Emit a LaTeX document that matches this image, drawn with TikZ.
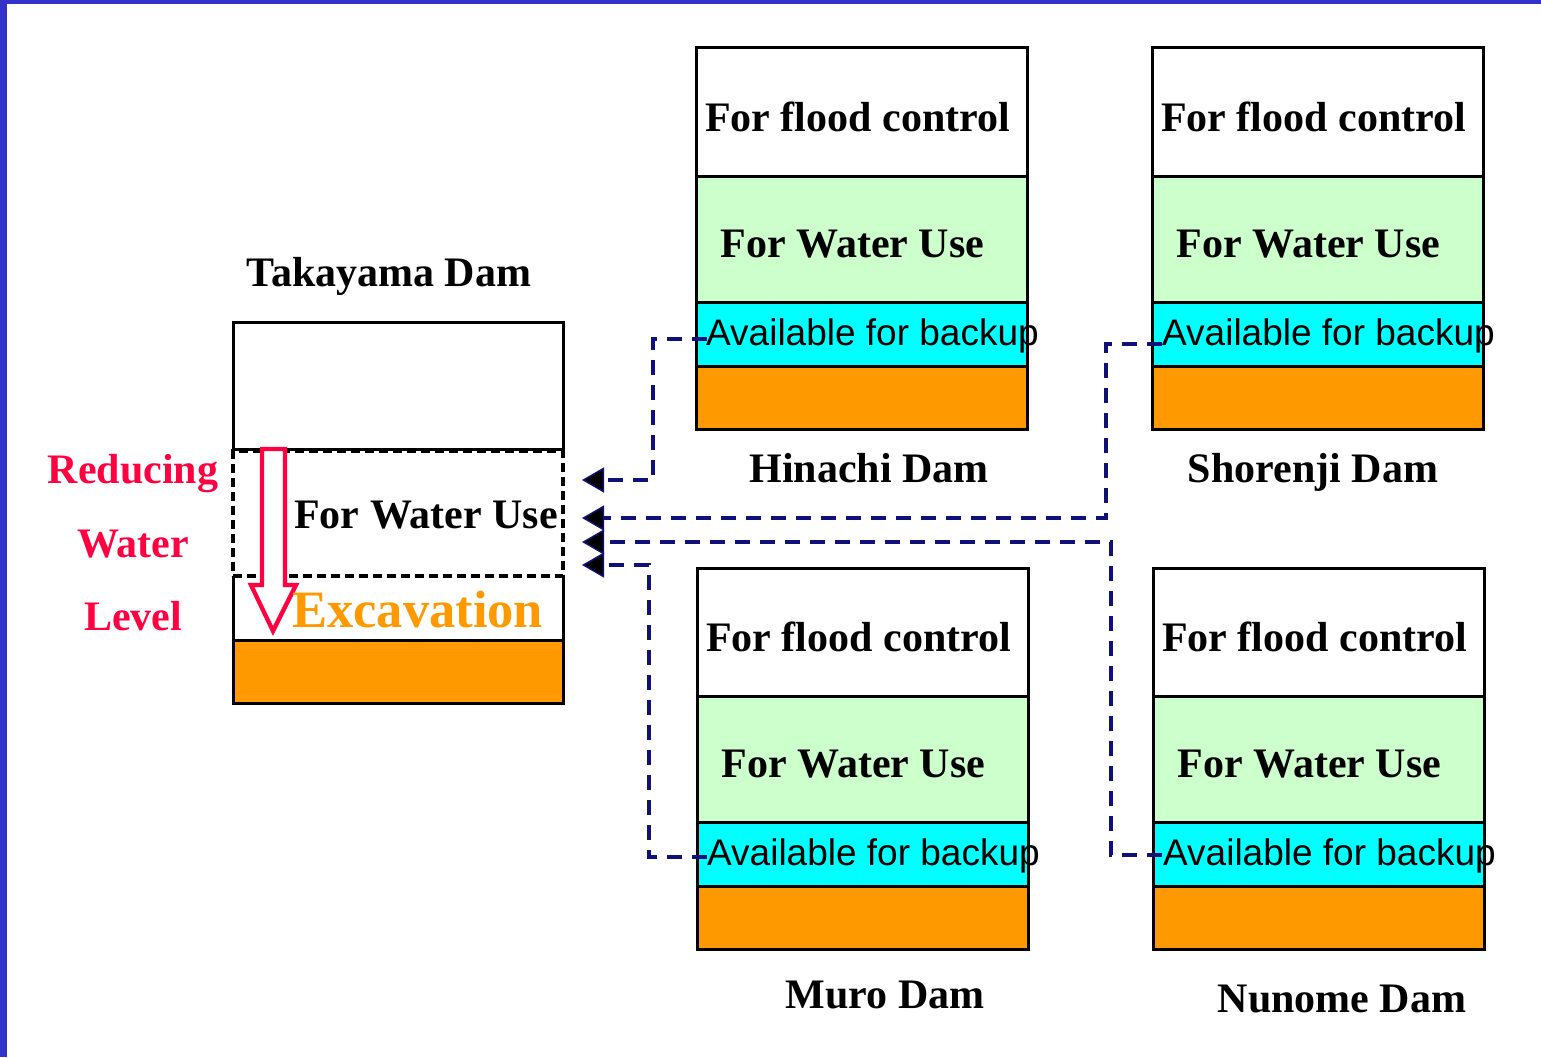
\documentclass[tikz,border=0pt]{standalone}
\usepackage{fontspec}
\setmainfont{Liberation Serif}
\newfontfamily\sansf{Liberation Sans}
\usetikzlibrary{arrows.meta,calc}
\definecolor{frameblue}{HTML}{3333CC}
\definecolor{waterg}{HTML}{CCFFCC}
\definecolor{backupc}{HTML}{00FFFF}
\definecolor{sediment}{HTML}{FF9900}
\definecolor{redtxt}{HTML}{FF0040}
\definecolor{linknavy}{HTML}{10107A}

% One dam: flood control / water use / backup / sediment layers plus its name
% #1 prefix, #2 left x, #3 top y, #4 name, #5 name x, #6 name y
\newcommand\damstack[6]{%
  \node[layer, minimum height=128pt, anchor=north west] (#1f) at (#2,#3) {};
  \node[layer, fill=waterg, minimum height=126pt, anchor=north west] (#1w) at (#2,{#3+128}) {};
  \node[layer, fill=backupc, minimum height=64pt, anchor=north west] (#1b) at (#2,{#3+254}) {};
  \node[layer, fill=sediment, minimum height=63pt, anchor=north west] (#1s) at (#2,{#3+318}) {};
  \node[title] (#1ft) at ($(#1f.center)+(-4,5)$) {For flood control};
  \node[title] (#1wt) at ($(#1w.center)+(-9,4)$) {For Water Use};
  \node[backup, anchor=west] (#1bt) at ($(#1b.west)+(10,-2)$) {Available for backup};
  \node[title] (#1lbl) at (#5,#6) {#4};
}

\begin{document}
\begin{tikzpicture}[x=1pt,y=-1pt,
  layer/.style={draw=black, line width=3pt, minimum width=331pt, inner sep=0pt, outer sep=0pt},
  title/.style={font=\fontsize{42}{50}\selectfont\bfseries, text height=28pt, text depth=0pt, inner sep=0pt},
  backup/.style={font=\sansf\fontsize{37}{44}\selectfont, text height=26.5pt, text depth=0pt, inner sep=0pt},
  redlbl/.style={title, text=redtxt},
  link/.style={draw=linknavy, line width=3.5pt, dash pattern=on 15pt off 10pt,
    -{Triangle[length=22pt,width=25pt,fill=black,line width=1.5pt]}},
]
\useasboundingbox (0,0) rectangle (1541,1057);
\fill[white] (0,0) rectangle (1541,1057);
% frame strips
\fill[frameblue] (0,0) rectangle (7,1057);
\fill[frameblue] (0,0) rectangle (1541,4);

% Takayama Dam
\node[title] (tlbl) at (389,272) {Takayama Dam};
\node[layer, minimum width=330pt, minimum height=127pt, anchor=north west] (tf) at (233,322) {};
\node[inner sep=0pt, outer sep=0pt, minimum width=330pt, minimum height=64pt, anchor=north west] (te) at (233,576) {};
\draw[line width=3pt] (te.north west) -- (te.south west) -- (te.south east) -- (te.north east);
\node[layer, fill=sediment, minimum width=330pt, minimum height=63pt, anchor=north west] (ts) at (233,640) {};
\node[draw=black, line width=3.2pt, dash pattern=on 9pt off 5pt, inner sep=0pt, outer sep=0pt,
  minimum width=330pt, minimum height=125pt, anchor=north west] (tw) at (233,451) {};

% lowering arrow
\draw[draw=redtxt, fill=white, line width=4.3pt, line join=miter]
  (262,449) -- (285,449) -- (285,585) -- (296,585) -- (273,631) -- (251,585) -- (262,585) -- cycle;

\node[title, anchor=west] (twt) at (294,514) {For Water Use};
\node[font=\fontsize{52.5}{60}\selectfont\bfseries, text=sediment, text height=35pt, text depth=0pt,
  inner sep=0pt, anchor=west] (tet) at (292,610) {Excavation};

\node[redlbl] (r1) at (133,469) {Reducing};
\node[redlbl] (r2) at (133,543) {Water};
\node[redlbl] (r3) at (133,616) {Level};

% the four supplying dams
\damstack{h}{696}{48}{Hinachi Dam}{869}{468}
\damstack{s}{1152}{48}{Shorenji Dam}{1313}{468}
\damstack{m}{697}{568}{Muro Dam}{885}{994}
\damstack{n}{1153}{568}{Nunome Dam}{1342}{998}

% backup supply links
\coordinate (hs) at ($(hb.west)+(11,5)$);
\coordinate (ss) at ($(sb.west)+(10,10)$);
\coordinate (ms) at ($(mb.west)+(10,3)$);
\coordinate (ns) at ($(nb.west)+(9,1)$);
\coordinate (hj) at (653,480);
\coordinate (sj) at (1106,518);
\coordinate (nj) at (1111,542);
\coordinate (mj) at (649,565);
\coordinate (in1) at (582,480);
\coordinate (in2) at (582,518);
\coordinate (in3) at (582,542);
\coordinate (in4) at (582,565);
\draw[link] (hs) -| (hj) -- (in1);
\draw[link] (ss) -| (sj) -- (in2);
\draw[link] (ns) -| (nj) -- (in3);
\draw[link] (ms) -| (mj) -- (in4);
\end{tikzpicture}
\end{document}
